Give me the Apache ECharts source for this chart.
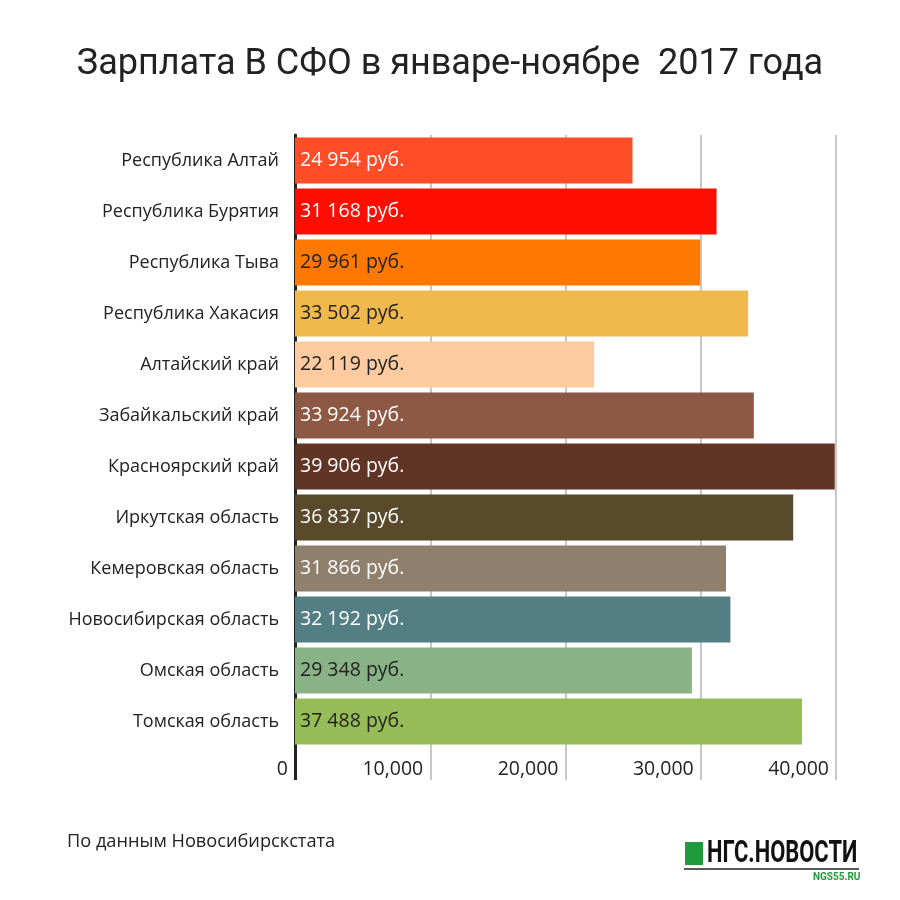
<!DOCTYPE html>
<html>
<head>
<meta charset="utf-8">
<script src="https://cdn.jsdelivr.net/npm/echarts@6/dist/echarts.min.js"></script>
<style>
html,body{margin:0;padding:0;background:#fff;}
#chart{width:900px;height:900px;}
</style>
</head>
<body>
<div id="chart"></div>
<script>
const titleText = 'Зарплата В СФО в январе-ноябре  2017 года';
const sourceText = 'По данным Новосибирскстата';
const regions = ['Республика Алтай','Республика Бурятия','Республика Тыва','Республика Хакасия','Алтайский край','Забайкальский край','Красноярский край','Иркутская область','Кемеровская область','Новосибирская область','Омская область','Томская область'];
const salaries = [24954, 31168, 29961, 33502, 22119, 33924, 39906, 36837, 31866, 32192, 29348, 37488];
const barColors = ['#FE4D27','#FF0D00','#FF7800','#F0B94B','#FDCB9F','#8E5944','#613526','#584A2A','#8F7F6D','#537E83','#8AB287','#96BC58'];
const labelColors = ['#fff','#fff','#222','#222','#222','#fff','#fff','#fff','#fff','#fff','#222','#222'];
const xTicks = [0, 10000, 20000, 30000, 40000];

const chart = echarts.init(document.getElementById('chart'));
const fmtRub = v => String(v).replace(/\B(?=(\d{3})+(?!\d))/g, ' ') + ' руб.';
const fmtTick = v => v === 0 ? '0' : String(v).replace(/\B(?=(\d{3})+(?!\d))/g, ',');

chart.setOption({
  animation: false,
  backgroundColor: '#fff',
  title: {
    text: titleText,
    left: 'center',
    top: 42,
    textStyle: {fontFamily: 'Roboto', fontWeight: 'normal', fontSize: 36, color: '#222'}
  },
  grid: {left: 295, right: 64, top: 135, bottom: 153, containLabel: false},
  xAxis: [{
    type: 'value',
    min: 0, max: 40000, interval: 10000,
    axisLine: {show: false},
    axisTick: {show: true, length: 33, lineStyle: {color: '#b5b5b5', width: 1.5}},
    splitLine: {show: true, lineStyle: {color: '#b5b5b5', width: 1.5}},
    axisLabel: {
      customValues: xTicks,
      formatter: fmtTick,
      margin: 12, align: 'right', verticalAlign: 'top',
      padding: [0, 7, 0, 0],
      fontFamily: 'Open Sans', fontSize: 19.5, color: '#222'
    }
  }, {
    type: 'value',
    min: 0, max: 40000,
    position: 'bottom',
    axisLine: {show: false},
    splitLine: {show: false},
    axisLabel: {show: false},
    axisTick: {show: true, customValues: [0], length: 33, lineStyle: {color: '#222', width: 3}}
  }],
  yAxis: {
    type: 'category',
    inverse: true,
    data: regions,
    axisLine: {show: true, lineStyle: {color: '#222', width: 3}},
    axisTick: {show: false},
    axisLabel: {margin: 16, fontFamily: 'Open Sans', fontSize: 18, color: '#222'}
  },
  series: [{
    type: 'bar',
    xAxisIndex: 0,
    data: salaries.map((v, i) => ({
      value: v,
      itemStyle: {color: barColors[i]},
      label: {color: labelColors[i]}
    })),
    barCategoryGap: '10%',
    label: {
      show: true,
      position: 'insideLeft',
      distance: 5,
      formatter: p => fmtRub(p.value),
      fontFamily: 'Open Sans', fontSize: 19.5
    }
  }],
  graphic: [
    {type: 'text', left: 67, top: 833, style: {text: sourceText, fontFamily: 'Open Sans', fontSize: 18.2, fill: '#222'}},
    {type: 'rect', shape: {x: 685, y: 842, width: 18, height: 23}, style: {fill: '#1E9B3C'}},
    {type: 'text', x: 707, y: 838, scaleX: 0.685, style: {text: 'НГС.НОВОСТИ', fontFamily: 'Liberation Sans Narrow, Roboto', fontWeight: 'bold', fontSize: 32, fill: '#111'}},
    {type: 'line', shape: {x1: 684, y1: 869, x2: 859, y2: 869}, style: {stroke: '#222', lineWidth: 1.5}},
    {type: 'text', x: 813, y: 872, style: {text: 'NGS55.RU', fontFamily: 'Roboto', fontWeight: 'bold', fontSize: 10, fill: '#1E9B3C'}}
  ]
});
</script>
</body>
</html>
